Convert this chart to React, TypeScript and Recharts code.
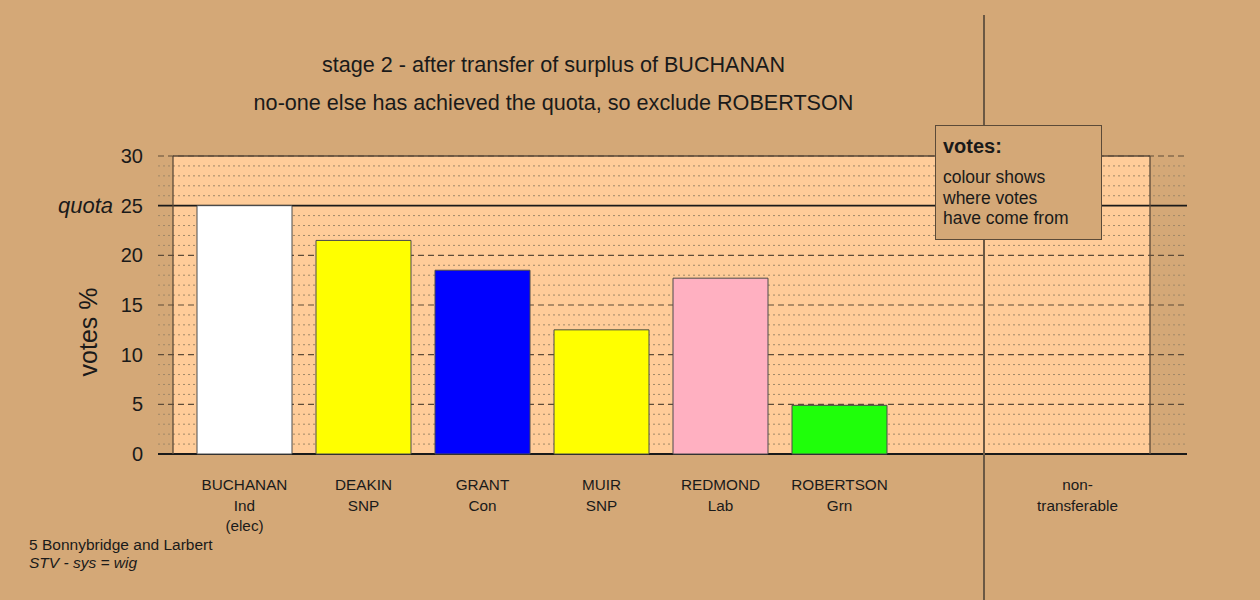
import { BarChart, Bar, Cell, XAxis, YAxis, CartesianGrid } from "recharts"

// candidates in ballot order, then an empty slot, then non-transferable
const candidates = ["BUCHANAN", "DEAKIN", "GRANT", "MUIR", "REDMOND", "ROBERTSON", " ", "non-"]
const parties = ["Ind", "SNP", "Con", "SNP", "Lab", "Grn", "", "transferable"]
const notes = ["(elec)", "", "", "", "", "", "", ""]
const votes = [25.0, 21.5, 18.5, 12.5, 17.7, 4.9, null, 0]
const barColours = ["#ffffff", "#ffff00", "#0000ff", "#ffff00", "#ffb0c1", "#1fff0a", "#ffffff", "#ffffff"]

const yTicks = [0, 5, 10, 15, 20, 25, 30]
const dashedLines = [5, 10, 15, 20, 30]
const dottedLines = [1, 2, 3, 4, 6, 7, 8, 9, 11, 12, 13, 14, 16, 17, 18, 19, 21, 22, 23, 24, 26, 27, 28, 29]
const solidLines = [0, 25]
const topLine = [30]
const quota = 25

const font = "'Liberation Sans', Arial, sans-serif"
const bg = "#d4a877"
const plotFill = "#ffcc99"
const edge = "#5b4a38"

const data = candidates.map((name, i) => ({ name, votes: votes[i] }))

// grid lines run a little past the plot on both sides
const extendLine = (style: any) => (p: any) => (
  <line key={p.key} x1={p.x1 - 15} y1={p.y1} x2={p.x2 + 37} y2={p.y2} fill="none" {...style} />
)

function CandidateTick({ x, y, index }: any) {
  const lines = [candidates[index], parties[index], notes[index]].filter((s) => s && s.trim())
  return (
    <text x={x} y={y} textAnchor="middle" fontFamily={font} fontSize={15.3} fill="#1a1a1a">
      {lines.map((s, i) => (
        <tspan key={i} x={x} dy={i === 0 ? 36 : 20.5}>
          {s}
        </tspan>
      ))}
    </text>
  )
}

function VoteTick({ x, y, payload }: any) {
  return (
    <g>
      {payload.value === quota && (
        <text x={x - 30} y={y} dy="0.35em" textAnchor="end" fontFamily={font} fontSize={22} fontStyle="italic" fill="#1a1a1a">
          quota
        </text>
      )}
      <text x={x} y={y} dy="0.35em" textAnchor="end" fontFamily={font} fontSize={20} fill="#1a1a1a">
        {payload.value}
      </text>
    </g>
  )
}

export default function App() {
  return (
    <div style={{ position: "absolute", left: 0, top: 0, width: 1260, height: 600, background: bg, fontFamily: font, color: "#1a1a1a", overflow: "hidden" }}>
      <BarChart width={1260} height={600} data={data} margin={{ top: 156, right: 109, bottom: 46, left: 0 }} barSize={95}>
        <CartesianGrid vertical={false} fill={plotFill} fillOpacity={1} horizontalValues={dottedLines}
          horizontal={extendLine({ stroke: "#a08868", strokeWidth: 1, strokeDasharray: "2 3" })} />
        <CartesianGrid vertical={false} horizontalValues={dashedLines}
          horizontal={extendLine({ stroke: "#5e4c39", strokeWidth: 1.2, strokeDasharray: "6 4" })} />
        <CartesianGrid vertical={false} horizontalValues={topLine} stroke={edge} strokeWidth={1.3} />
        <CartesianGrid vertical={false} horizontalValues={solidLines}
          horizontal={extendLine({ stroke: "#1a1a1a", strokeWidth: 1.8 })} />
        <XAxis dataKey="name" height={100} padding={{ left: 12, right: 13 }} interval={0}
          axisLine={false} tickLine={false} tickSize={0} tickMargin={0} tick={(p: any) => <CandidateTick {...p} />} />
        <YAxis width={173} domain={[0, 30]} ticks={yTicks} interval={0} axisLine={{ stroke: edge, strokeWidth: 1.3 }} tickLine={false}
          tickSize={0} tickMargin={30} tick={(p: any) => <VoteTick {...p} />}
          label={{
            content: ({ viewBox }: any) => (
              <text transform={`translate(${viewBox.x + 97},${viewBox.y + viewBox.height / 2 + 27}) rotate(-90)`}
                textAnchor="middle" fontFamily={font} fontSize={25} fill="#1a1a1a">
                votes %
              </text>
            ),
          }} />
        <YAxis yAxisId="edge" orientation="right" width={1} domain={[0, 30]} tick={false} tickLine={false}
          axisLine={{ stroke: edge, strokeWidth: 1.3 }} />
        <Bar dataKey="votes" isAnimationActive={false} stroke="#4a4a4a" strokeWidth={1}>
          {data.map((d, i) => (
            <Cell key={d.name} fill={barColours[i]} />
          ))}
        </Bar>
      </BarChart>

      <div style={{ position: "absolute", left: 0, top: 54, width: 1107, textAlign: "center", fontSize: 21.6, lineHeight: "22px" }}>
        stage 2 - after transfer of surplus of BUCHANAN
      </div>
      <div style={{ position: "absolute", left: 0, top: 92, width: 1107, textAlign: "center", fontSize: 21.6, lineHeight: "22px" }}>
        no-one else has achieved the quota, so exclude ROBERTSON
      </div>

      <div style={{ position: "absolute", left: 983, top: 15, width: 1.5, height: 585, background: "#6b5843" }} />

      <div style={{ position: "absolute", left: 935, top: 125, width: 167, height: 115, boxSizing: "border-box", background: bg, border: "1px solid #5b4a38" }}>
        <div style={{ position: "absolute", left: 7, top: 9, fontSize: 20, fontWeight: "bold", lineHeight: "22px" }}>votes:</div>
        <div style={{ position: "absolute", left: 7, top: 41, fontSize: 17.5, lineHeight: "20.5px", whiteSpace: "nowrap" }}>
          colour shows<br />where votes<br />have come from
        </div>
      </div>

      <div style={{ position: "absolute", left: 29, top: 536, fontSize: 15.5, lineHeight: "18px", whiteSpace: "nowrap" }}>
        5 Bonnybridge and Larbert<br />
        <i>STV - sys = wig</i>
      </div>
    </div>
  )
}
